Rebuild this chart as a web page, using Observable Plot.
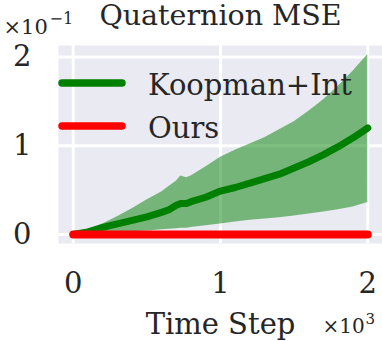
<!DOCTYPE html>
<html>
<head>
<meta charset="utf-8">
<script src="https://cdn.jsdelivr.net/npm/d3@7"></script>
<script src="https://cdn.jsdelivr.net/npm/@observablehq/plot@0.6"></script>
<style>
  html, body { margin: 0; padding: 0; background: #ffffff; }
  #chart svg { display: block; }
</style>
</head>
<body>
<div id="chart"></div>
<script>
// ---- Data (values in units of 10^-1, time steps in raw steps) ----
const steps        = [0, 100, 200, 300, 400, 500, 600, 650, 700, 730, 770, 800, 900, 1000, 1100, 1200, 1300, 1400, 1500, 1600, 1700, 1800, 1900, 2000];
const koopmanMean  = [0, 0.03, 0.08, 0.12, 0.16, 0.20, 0.25, 0.28, 0.33, 0.35, 0.35, 0.37, 0.42, 0.49, 0.53, 0.58, 0.63, 0.68, 0.75, 0.82, 0.90, 0.99, 1.09, 1.20];
const koopmanUpper = [0, 0.04, 0.12, 0.20, 0.29, 0.39, 0.48, 0.54, 0.60, 0.66, 0.64, 0.66, 0.76, 0.87, 0.95, 1.02, 1.09, 1.18, 1.27, 1.39, 1.52, 1.67, 1.84, 2.03];
const koopmanLower = [0, 0, 0.01, 0.02, 0.03, 0.04, 0.055, 0.06, 0.065, 0.07, 0.07, 0.08, 0.10, 0.12, 0.14, 0.16, 0.175, 0.19, 0.21, 0.23, 0.255, 0.28, 0.31, 0.36];
const oursSteps    = [0, 500, 1000, 1500, 2000];
const oursMean     = [0, 0, 0, 0, 0];

const seriesNames  = ["Koopman+Int", "Ours"];
const seriesColors = ["green", "red"];

const xTicks = [0, 1000, 2000];
const xTickLabels = ["0", "1", "2"];
const yTicks = [0, 1, 2];
const yTickLabels = ["0", "1", "2"];

const titleText = "Quaternion MSE";
const xLabel = "Time Step";
const xOffsetBase = "×10", xOffsetExp = "3";
const yOffsetBase = "×10", yOffsetExp = "−1";

// ---- Tables ----
const koopman = steps.map((s, i) => ({step: s, mean: koopmanMean[i], lo: koopmanLower[i], hi: koopmanUpper[i]}));
const ours = oursSteps.map((s, i) => ({step: s, mean: oursMean[i]}));

const textColor = "#262626";
const font = "'DejaVu Serif', serif";

function legendMark(index, scales, values, dims) {
  const g = d3.create("svg:g").attr("text-anchor", "start");
  seriesNames.forEach((name, i) => {
    const y = dims.marginTop + 38 + i * 43;
    g.append("line")
      .attr("x1", dims.marginLeft + 4).attr("x2", dims.marginLeft + 64)
      .attr("y1", y).attr("y2", y)
      .attr("stroke", seriesColors[i]).attr("stroke-width", 7.5)
      .attr("stroke-linecap", "round");
    g.append("text")
      .attr("x", dims.marginLeft + 90).attr("y", y + 11.5)
      .attr("text-anchor", "start")
      .attr("fill", textColor)
      .attr("font-size", 29)
      .text(name);
  });
  return g.node();
}

const chart = Plot.plot({
  width: 382,
  height: 341,
  marginLeft: 58,
  marginRight: 0,
  marginTop: 45,
  marginBottom: 98,
  style: {fontFamily: font, fontSize: "29px", color: textColor, background: "#ffffff", overflow: "visible"},
  x: {domain: [-100, 2100], label: null},
  y: {domain: [-0.101, 2.13], label: null},
  marks: [
    Plot.frame({fill: "#EAEAF2", stroke: "none"}),
    Plot.gridX(xTicks, {stroke: "white", strokeOpacity: 1, strokeWidth: 3}),
    Plot.gridY(yTicks, {stroke: "white", strokeOpacity: 1, strokeWidth: 3}),
    Plot.areaY(koopman, {x: "step", y1: "lo", y2: "hi", fill: seriesColors[0], fillOpacity: 0.5}),
    Plot.line(koopman, {x: "step", y: "mean", stroke: seriesColors[0], strokeWidth: 7, strokeLinecap: "round", strokeLinejoin: "round"}),
    Plot.line(ours, {x: "step", y: "mean", stroke: seriesColors[1], strokeWidth: 8, strokeLinecap: "round", strokeLinejoin: "round"}),
    Plot.axisX({ticks: xTicks, tickFormat: d => xTickLabels[xTicks.indexOf(d)], tickSize: 0, tickPadding: 29, label: null}),
    Plot.axisY({ticks: yTicks, tickFormat: d => yTickLabels[yTicks.indexOf(d)], tickSize: 0, tickPadding: 27, label: null}),
    Plot.text([titleText], {text: d => d, frameAnchor: "top", lineAnchor: "bottom", dy: -21, fontSize: 28.5, fill: textColor}),
    Plot.text([xLabel], {text: d => d, frameAnchor: "bottom", lineAnchor: "bottom", dy: 90, fontSize: 29, fill: textColor}),
    Plot.text([yOffsetBase], {text: d => d, frameAnchor: "top-left", textAnchor: "start", lineAnchor: "bottom", dx: -55, dy: -12, fontSize: 21, fill: textColor}),
    Plot.text([yOffsetExp], {text: d => d, frameAnchor: "top-left", textAnchor: "start", lineAnchor: "bottom", dx: -9, dy: -22, fontSize: 16, fill: textColor}),
    Plot.text([xOffsetBase], {text: d => d, frameAnchor: "bottom-right", textAnchor: "start", lineAnchor: "bottom", dx: -60, dy: 89, fontSize: 20, fill: textColor}),
    Plot.text([xOffsetExp], {text: d => d, frameAnchor: "bottom-right", textAnchor: "start", lineAnchor: "bottom", dx: -17, dy: 80, fontSize: 15, fill: textColor}),
    legendMark
  ]
});

document.getElementById("chart").appendChild(chart);
</script>
</body>
</html>
